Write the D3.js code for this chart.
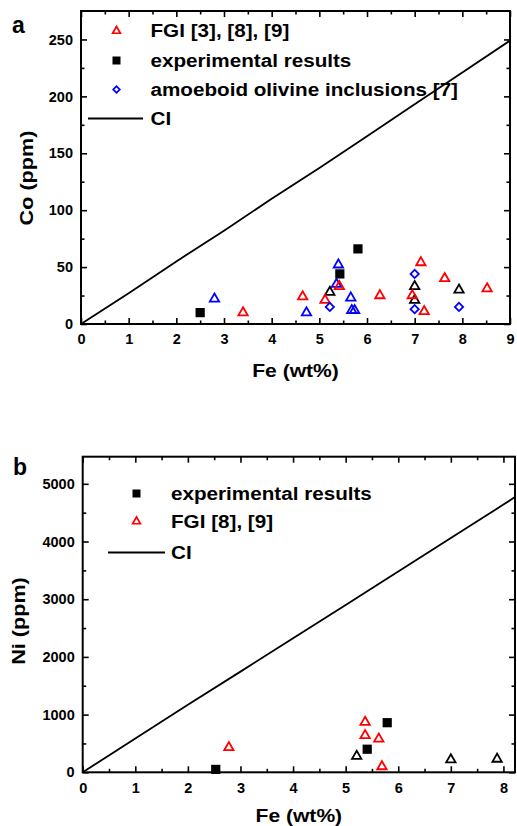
<!DOCTYPE html>
<html>
<head>
<meta charset="utf-8">
<script src="https://cdnjs.cloudflare.com/ajax/libs/d3/7.8.5/d3.min.js"></script>
<style>
  body { margin: 0; background: #fff; }
  text { font-family: Arial, "Liberation Sans", sans-serif; font-weight: bold; fill: #000; }
</style>
</head>
<body>
<svg width="517" height="826"></svg>
<script>
var svg = d3.select("svg");

// ---- panel a data (Fe wt%, Co ppm) ----
var fgiFeA   = [3.4, 4.65, 5.12, 5.42, 6.27, 6.95, 7.13, 7.2, 7.63, 8.52];
var fgiCoA   = [10, 24, 21, 33, 25, 25, 54, 11, 40, 31];
var expFeA   = [2.5, 5.43, 5.81];
var expCoA   = [10, 44, 66];
var aoiFeA   = [5.22, 7.0, 7.0, 7.93];
var aoiCoA   = [15, 44, 13, 15];
var blueTriFeA = [2.8, 4.73, 5.36, 5.4, 5.66, 5.68, 5.74];
var blueTriCoA = [22, 10, 35, 52, 23, 12, 12];
var blackTriFeA = [5.22, 7.0, 7.0, 7.93];
var blackTriCoA = [28, 33, 21, 30];
var ciFeA = [0, 1, 2, 3, 4, 5, 6, 7, 8, 9];
var ciCoA = [0, 27, 55, 82, 110, 137, 165, 193, 221, 249];

// ---- panel b data (Fe wt%, Ni ppm) ----
var expFeB = [2.53, 5.41, 5.79];
var expNiB = [50, 400, 860];
var fgiFeB = [2.78, 5.37, 5.37, 5.63, 5.69];
var fgiNiB = [430, 640, 870, 580, 100];
var blackTriFeB = [5.21, 7.0, 7.88];
var blackTriNiB = [280, 220, 230];
var ciFeB = [0, 1, 2, 3, 4, 5, 6, 7, 8, 8.22];
var ciNiB = [0, 585, 1170, 1745, 2325, 2900, 3480, 4060, 4640, 4770];

var xTicksA = [0, 1, 2, 3, 4, 5, 6, 7, 8, 9];
var yTicksA = [0, 50, 100, 150, 200, 250];
var xTicksB = [0, 1, 2, 3, 4, 5, 6, 7, 8];
var yTicksB = [0, 1000, 2000, 3000, 4000, 5000];

var RED = "#ff0000", BLUE = "#0000ff", BLACK = "#000000";

function zip(a, b) { return a.map(function(d, i) { return [d, b[i]]; }); }

// the original lettering is a bit wider than Liberation Sans Bold
function stretch(sel, k) {
  sel.each(function() {
    var w = this.getComputedTextLength();
    d3.select(this).attr("textLength", w * k).attr("lengthAdjust", "spacingAndGlyphs");
  });
}

function drawPanel(cfg) {
  var x = d3.scaleLinear().domain(cfg.xDomain).range([cfg.left, cfg.right]);
  var y = d3.scaleLinear().domain(cfg.yDomain).range([cfg.bottom, cfg.top]);
  var g = svg.append("g");

  var minorX = d3.range(cfg.xDomain[0] + 0.5, cfg.xDomain[1], 1);
  var minorY = d3.range(cfg.yStep / 2, cfg.yDomain[1], cfg.yStep);
  var fmt = d3.format("d");

  // bottom axis with labels
  g.append("g").attr("transform", "translate(0," + cfg.bottom + ")")
    .call(d3.axisBottom(x).tickValues(cfg.xTicks).tickFormat(fmt).tickSizeInner(-6).tickSizeOuter(0).tickPadding(10))
    .call(styleAxis, 14.5);
  g.append("g").attr("transform", "translate(0," + cfg.bottom + ")")
    .call(d3.axisBottom(x).tickValues(minorX).tickSizeInner(-3.5).tickSizeOuter(0).tickFormat(""))
    .call(styleAxis, 14);
  // top mirror ticks
  g.append("g").attr("transform", "translate(0," + cfg.top + ")")
    .call(d3.axisTop(x).tickValues(cfg.xTicks).tickSizeInner(-6).tickSizeOuter(0).tickFormat(""))
    .call(styleAxis, 14);
  g.append("g").attr("transform", "translate(0," + cfg.top + ")")
    .call(d3.axisTop(x).tickValues(minorX).tickSizeInner(-3.5).tickSizeOuter(0).tickFormat(""))
    .call(styleAxis, 14);
  // left axis with labels
  g.append("g").attr("transform", "translate(" + cfg.left + ",0)")
    .call(d3.axisLeft(y).tickValues(cfg.yTicks).tickFormat(fmt).tickSizeInner(-6).tickSizeOuter(0).tickPadding(8))
    .call(styleAxis, 14.5);
  g.append("g").attr("transform", "translate(" + cfg.left + ",0)")
    .call(d3.axisLeft(y).tickValues(minorY).tickSizeInner(-3.5).tickSizeOuter(0).tickFormat(""))
    .call(styleAxis, 14);
  // right mirror ticks
  g.append("g").attr("transform", "translate(" + cfg.right + ",0)")
    .call(d3.axisRight(y).tickValues(cfg.yTicks).tickSizeInner(-6).tickSizeOuter(0).tickFormat(""))
    .call(styleAxis, 14);
  g.append("g").attr("transform", "translate(" + cfg.right + ",0)")
    .call(d3.axisRight(y).tickValues(minorY).tickSizeInner(-3.5).tickSizeOuter(0).tickFormat(""))
    .call(styleAxis, 14);

  // frame
  g.append("rect")
    .attr("x", cfg.left).attr("y", cfg.top)
    .attr("width", cfg.right - cfg.left).attr("height", cfg.bottom - cfg.top)
    .attr("fill", "none").attr("stroke", "#000").attr("stroke-width", 2);

  // CI line
  g.append("path")
    .datum(zip(cfg.ciX, cfg.ciY))
    .attr("fill", "none").attr("stroke", "#000").attr("stroke-width", 1.8)
    .attr("d", d3.line().x(function(d) { return x(d[0]); }).y(function(d) { return y(d[1]); }));

  // scatter series
  cfg.series.forEach(function(s) {
    g.append("g").selectAll("path")
      .data(zip(s.x, s.y))
      .enter().append("path")
      .attr("transform", function(d) {
        return "translate(" + x(d[0]) + "," + y(d[1]) + ")" + (s.rotate ? " rotate(45)" : "");
      })
      .attr("d", d3.symbol().type(s.type).size(s.size))
      .attr("fill", s.filled ? s.color : "none")
      .attr("stroke", s.color)
      .attr("stroke-width", s.filled ? 0 : 1.8);
  });

  // axis titles
  g.append("text")
    .attr("transform", "translate(" + cfg.yTitleX + "," + cfg.yTitleY + ") rotate(-90)")
    .attr("text-anchor", "middle")
    .style("font-size", "18px")
    .text(cfg.yTitle)
    .call(stretch, 1.2);
  g.append("text")
    .attr("x", (cfg.left + cfg.right) / 2).attr("y", cfg.xTitleY)
    .attr("text-anchor", "middle")
    .style("font-size", "18px")
    .text("Fe (wt%)")
    .call(stretch, 1.17);

  // panel letter
  g.append("text")
    .attr("x", cfg.letterX).attr("y", cfg.letterY)
    .style("font-size", "23px")
    .text(cfg.letter);

  // legend
  cfg.legend.forEach(function(l) {
    if (l.line) {
      g.append("line")
        .attr("x1", l.lx1).attr("x2", l.lx2).attr("y1", l.y).attr("y2", l.y)
        .attr("stroke", "#000").attr("stroke-width", 1.8);
    } else {
      g.append("path")
        .attr("transform", "translate(" + l.sx + "," + l.y + ")" + (l.rotate ? " rotate(45)" : ""))
        .attr("d", d3.symbol().type(l.type).size(l.size))
        .attr("fill", l.filled ? l.color : "none")
        .attr("stroke", l.color)
        .attr("stroke-width", l.filled ? 0 : 1.7);
    }
    g.append("text")
      .attr("x", l.tx).attr("y", l.y).attr("dy", "0.36em")
      .style("font-size", "17.5px")
      .text(l.label)
      .call(stretch, 1.18);
  });
}

function styleAxis(sel, fs) {
  sel.select(".domain").remove();
  sel.selectAll(".tick line").attr("stroke", "#000").attr("stroke-width", 1.6);
  sel.selectAll(".tick text")
    .style("font-size", fs + "px")
    .style("font-family", "Arial, 'Liberation Sans', sans-serif")
    .style("font-weight", "bold")
    .attr("fill", "#000");
}

drawPanel({
  left: 81, right: 510, top: 11, bottom: 324,
  xDomain: [0, 9], yDomain: [0, 275], yStep: 50,
  xTicks: xTicksA, yTicks: yTicksA,
  ciX: ciFeA, ciY: ciCoA,
  yTitle: "Co (ppm)", yTitleX: 33, yTitleY: 178, xTitleY: 377,
  letter: "a", letterX: 12, letterY: 33,
  series: [
    { x: blueTriFeA, y: blueTriCoA, type: d3.symbolTriangle, size: 38, color: BLUE },
    { x: blackTriFeA, y: blackTriCoA, type: d3.symbolTriangle, size: 38, color: BLACK },
    { x: fgiFeA, y: fgiCoA, type: d3.symbolTriangle, size: 38, color: RED },
    { x: aoiFeA, y: aoiCoA, type: d3.symbolSquare, size: 34, color: BLUE, rotate: true },
    { x: expFeA, y: expCoA, type: d3.symbolSquare, size: 85, color: BLACK, filled: true }
  ],
  legend: [
    { sx: 116.5, tx: 150.5, y: 31, type: d3.symbolTriangle, size: 26, color: RED, label: "FGI [3], [8], [9]" },
    { sx: 116.5, tx: 150.5, y: 60.5, type: d3.symbolSquare, size: 64, color: BLACK, filled: true, label: "experimental results" },
    { sx: 116.5, tx: 150.5, y: 89.5, type: d3.symbolSquare, size: 22, color: BLUE, rotate: true, label: "amoeboid olivine inclusions [7]" },
    { line: true, lx1: 88, lx2: 143, tx: 150.5, y: 118.5, label: "CI" }
  ]
});

drawPanel({
  left: 82.7, right: 515, top: 456.7, bottom: 772.3,
  xDomain: [0, 8.22], yDomain: [0, 5470], yStep: 1000,
  xTicks: xTicksB, yTicks: yTicksB,
  ciX: ciFeB, ciY: ciNiB,
  yTitle: "Ni (ppm)", yTitleX: 25, yTitleY: 621, xTitleY: 822,
  letter: "b", letterX: 13, letterY: 475,
  series: [
    { x: blackTriFeB, y: blackTriNiB, type: d3.symbolTriangle, size: 38, color: BLACK },
    { x: fgiFeB, y: fgiNiB, type: d3.symbolTriangle, size: 38, color: RED },
    { x: expFeB, y: expNiB, type: d3.symbolSquare, size: 85, color: BLACK, filled: true }
  ],
  legend: [
    { sx: 136.5, tx: 171, y: 493.5, type: d3.symbolSquare, size: 64, color: BLACK, filled: true, label: "experimental results" },
    { sx: 136.5, tx: 171, y: 521.5, type: d3.symbolTriangle, size: 26, color: RED, label: "FGI [8], [9]" },
    { line: true, lx1: 108, lx2: 165, tx: 171, y: 552.5, label: "CI" }
  ]
});
</script>
</body>
</html>
